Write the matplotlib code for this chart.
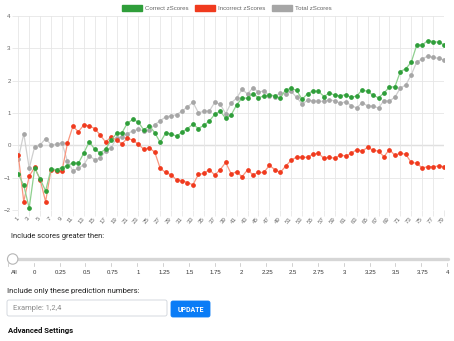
import numpy as np
import matplotlib.pyplot as plt
from matplotlib.patches import Patch, Circle, FancyBboxPatch

plt.rcParams['font.family'] = ['Liberation Sans', 'DejaVu Sans']

# z-scores per prediction number
correct = [-0.88, -1.24, -1.94, -0.71, -1.04, -1.41, -0.73, -0.75, -0.69, -0.63,
           -0.54, -0.56, -0.24, 0.11, -0.12, -0.24, -0.11, 0.15, 0.37, 0.39,
           0.69, 0.80, 0.72, 0.47, 0.61, 0.39, 0.09, 0.38, 0.36, 0.28,
           0.41, 0.52, 0.65, 0.52, 0.62, 0.75, 0.96, 1.06, 0.83, 0.94,
           1.25, 1.46, 1.46, 1.60, 1.47, 1.53, 1.55, 1.54, 1.46, 1.72,
           1.76, 1.70, 1.42, 1.60, 1.68, 1.67, 1.51, 1.62, 1.55, 1.53,
           1.57, 1.48, 1.53, 1.71, 1.67, 1.55, 1.47, 1.62, 1.80, 1.81,
           2.28, 2.37, 2.57, 3.10, 3.10, 3.24, 3.21, 3.19, 3.11]
incorrect = [-0.31, -1.74, -0.95, -0.68, -1.06, -1.74, -0.75, -0.80, -0.80, 0.06,
             0.59, 0.42, 0.63, 0.60, 0.52, 0.32, 0.10, 0.26, 0.16, 0.05,
             0.22, 0.16, 0.03, -0.12, -0.08, -0.21, -0.71, -0.84, -0.91, -1.07,
             -1.09, -1.15, -1.22, -0.90, -0.87, -0.75, -0.92, -0.75, -0.53, -0.88,
             -0.82, -0.97, -0.76, -0.91, -0.84, -0.84, -0.62, -0.75, -0.84, -0.64,
             -0.46, -0.36, -0.37, -0.37, -0.27, -0.25, -0.40, -0.37, -0.40, -0.30,
             -0.33, -0.25, -0.13, -0.18, -0.06, -0.15, -0.18, -0.35, -0.13, -0.31,
             -0.24, -0.28, -0.53, -0.55, -0.70, -0.66, -0.66, -0.64, -0.66]
total = [-0.42, 0.36, -0.71, -0.04, 0.01, 0.21, 0.02, 0.03, 0.08, -0.49,
         -0.79, -0.71, -0.60, -0.33, -0.44, -0.40, -0.17, -0.08, 0.23, 0.27,
         0.36, 0.45, 0.49, 0.45, 0.47, 0.64, 0.76, 0.88, 0.91, 0.95,
         1.06, 1.19, 1.33, 1.01, 1.05, 1.06, 1.33, 1.27, 0.98, 1.31,
         1.46, 1.73, 1.59, 1.78, 1.65, 1.68, 1.54, 1.51, 1.62, 1.59,
         1.67, 1.48, 1.28, 1.39, 1.38, 1.36, 1.36, 1.40, 1.38, 1.30,
         1.35, 1.23, 1.16, 1.32, 1.22, 1.21, 1.16, 1.38, 1.37, 1.49,
         1.77, 1.87, 2.18, 2.58, 2.67, 2.76, 2.72, 2.69, 2.64]
series_names = ['Correct zScores', 'Incorrect zScores', 'Total zScores']
slider_labels = ['All', '0', '0.25', '0.5', '0.75', '1', '1.25', '1.5', '1.75', '2',
                 '2.25', '2.5', '2.75', '3', '3.25', '3.5', '3.75', '4']

W, H = 454, 341
fig = plt.figure(figsize=(W / 100, H / 100), dpi=100)


def px_axes(x0, y0, x1, y1):
    return fig.add_axes([x0 / W, 1 - y1 / H, (x1 - x0) / W, (y1 - y0) / H])


#%% chart
ax = px_axes(18.3, 16, 444, 210)
x = np.arange(1, len(correct) + 1)
ax.set_xlim(1, len(x))
ax.set_ylim(-2, 4)
ax.set_xticks(x[::2])
ax.set_xticklabels([str(v) for v in x[::2]], rotation=50, ha='right',
                   va='center', rotation_mode='anchor')
ax.set_yticks(range(-2, 5))
ax.tick_params(axis='both', length=4, width=0.6, color='#e6e6e6',
               labelsize=4.4, labelcolor='#666666', pad=1.5)
ax.grid(True, color='#e6e6e6', lw=0.6)
ax.axhline(0, color='#c4c4c4', lw=0.9, zorder=1)
for s in ax.spines.values():
    s.set_visible(False)

styles = [  # line colour, point colour
    ('#8fd08f', '#2f9e3a'),
    ('#f9967f', '#f03a1e'),
    ('#cfcfcf', '#a6a6a6'),
]
data = [correct, incorrect, total]
for k in [2, 1, 0]:
    ax.plot(x, data[k], color=styles[k][0], lw=0.9, marker='o', ms=2.4,
            mfc=styles[k][1], mec=styles[k][1], zorder=3 + (2 - k))

handles = [Patch(facecolor=styles[k][1], edgecolor=styles[k][1], label=series_names[k])
           for k in range(3)]
fig.legend(handles=handles, loc='center', bbox_to_anchor=(227 / W, 1 - 8 / H),
           ncol=3, frameon=False, fontsize=4.4, handlelength=3.3, handleheight=1.1,
           handletextpad=0.5, columnspacing=1.0, labelcolor='#666666')

#%% form controls below the chart
ui = fig.add_axes([0, 0, 1, 1])
ui.set_xlim(0, W)
ui.set_ylim(H, 0)
ui.axis('off')

ui.text(11, 237, 'Include scores greater then:', fontsize=5.4, color='#222222',
        va='center', family=['Roboto', 'DejaVu Sans'])

sx = np.linspace(8, 447, len(slider_labels))
ui.plot([sx[0], sx[-1] + 1], [258.5, 258.5], color='#d6d6d6', lw=2.4,
        solid_capstyle='round')
for i, lab in enumerate(slider_labels):
    ui.plot([sx[i], sx[i]], [263, 266], color='#bdbdbd', lw=0.5)
    if i == 0:
        ui.text(sx[i] + 3, 273, lab, fontsize=4.3, color='#333333', ha='left', va='center')
    else:
        ui.text(sx[i] + 1, 273, lab, fontsize=4.3, color='#333333', ha='center', va='center')
ui.add_patch(Circle((12.7, 259), 5.2, facecolor='white', edgecolor='#b5b5b5', lw=0.8,
                    zorder=5))

ui.text(7, 291, 'Include only these prediction numbers:', fontsize=5.6, color='#222222',
        va='center', family=['Roboto', 'DejaVu Sans'])
ui.add_patch(FancyBboxPatch((7, 300), 160, 16, boxstyle='round,pad=0,rounding_size=2',
                            facecolor='white', edgecolor='#ced4da', lw=0.6))
ui.text(13, 308.5, 'Example: 1,2,4', fontsize=5.4, color='#8a8a8a', va='center',
        family=['Roboto', 'DejaVu Sans'])
ui.add_patch(FancyBboxPatch((171, 301), 39, 16, boxstyle='round,pad=0,rounding_size=2',
                            facecolor='#0a7cf6', edgecolor='#0a7cf6', lw=0.6))
ui.text(190.5, 309.5, 'UPDATE', fontsize=5.0, color='white', ha='center', va='center',
        weight='bold', family=['Roboto', 'DejaVu Sans'])

ui.text(8, 331, 'Advanced Settings', fontsize=5.6, color='#111111', weight='bold',
        va='center', family=['Roboto', 'DejaVu Sans'])

fig.savefig('out.png', dpi=100)
